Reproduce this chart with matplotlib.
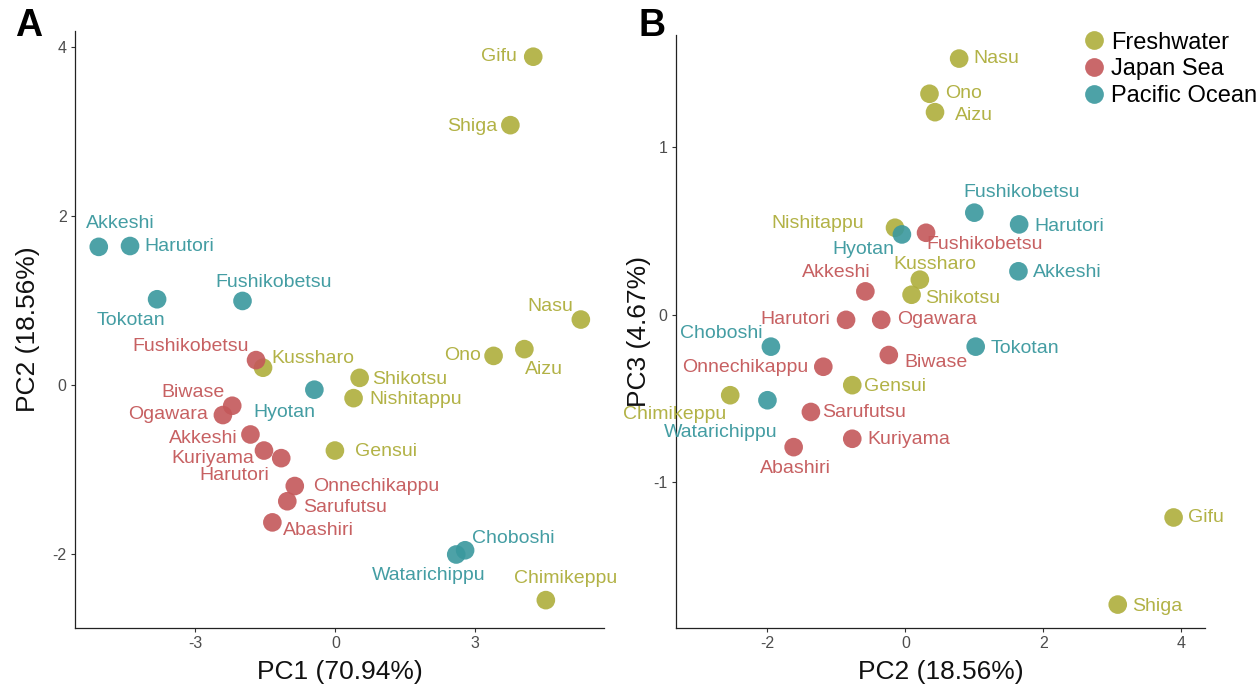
import numpy as np
import matplotlib
matplotlib.use("Agg")
import matplotlib.pyplot as plt
from matplotlib.lines import Line2D

plt.rcParams['font.family'] = ['Liberation Sans', 'DejaVu Sans']
plt.rcParams['axes.unicode_minus'] = False

# population names per group
fresh_names = ['Gifu', 'Shiga', 'Nasu', 'Ono', 'Aizu', 'Kussharo', 'Shikotsu',
               'Nishitappu', 'Gensui', 'Chimikeppu']
japan_names = ['Fushikobetsu', 'Biwase', 'Ogawara', 'Akkeshi', 'Kuriyama',
               'Harutori', 'Onnechikappu', 'Sarufutsu', 'Abashiri']
pacific_names = ['Akkeshi', 'Harutori', 'Tokotan', 'Fushikobetsu', 'Hyotan',
                 'Choboshi', 'Watarichippu']

# PC scores
fresh_pc1 = [4.24, 3.75, 5.26, 3.39, 4.05, -1.55, 0.52, 0.39, -0.01, 4.51]
fresh_pc2 = [3.89, 3.08, 0.78, 0.35, 0.43, 0.21, 0.09, -0.15, -0.77, -2.54]
fresh_pc3 = [-1.21, -1.73, 1.53, 1.32, 1.21, 0.21, 0.12, 0.52, -0.42, -0.48]

japan_pc1 = [-1.70, -2.21, -2.41, -1.82, -1.53, -1.16, -0.87, -1.03, -1.35]
japan_pc2 = [0.30, -0.24, -0.35, -0.58, -0.77, -0.86, -1.19, -1.37, -1.62]
japan_pc3 = [0.49, -0.24, -0.03, 0.14, -0.74, -0.03, -0.31, -0.58, -0.79]

pacific_pc1 = [-5.07, -4.40, -3.82, -1.99, -0.45, 2.78, 2.59]
pacific_pc2 = [1.64, 1.65, 1.02, 1.00, -0.05, -1.95, -2.00]
pacific_pc3 = [0.26, 0.54, -0.19, 0.61, 0.48, -0.19, -0.51]

group_labels = ['Freshwater', 'Japan Sea', 'Pacific Ocean']
colors = ['#AEAE3C', '#C4585A', '#3A989E']

# label offsets in pixels (dx, dy down) -- ggrepel-like placement
offs_a = {
    'Freshwater': [(-34, 0), (-38, 1), (-31, -13), (-31, 0), (20, 20), (50, -9),
                   (50, 2), (62, 1), (51, 1), (20, -22)],
    'Japan Sea': [(-65, -14), (-39, -13), (-55, -1), (-47, 4), (-51, 8), (-47, 17),
                  (81, 0), (58, 6), (46, 8)],
    'Pacific Ocean': [(22, -23), (49, 0), (-26, 21), (31, -18), (-30, 23), (48, -12),
                      (-28, 21)],
}
offs_b = {
    'Freshwater': [(32, 0), (40, 2), (37, 0), (34, 0), (39, 3), (15, -15),
                   (51, 4), (-77, -4), (43, 1), (-56, 19)],
    'Japan Sea': [(59, 12), (47, 7), (56, 0), (-29, -19), (57, 1), (-51, 0),
                  (-78, 1), (53, 1), (2, 21)],
    'Pacific Ocean': [(49, 1), (50, 2), (49, 2), (47, -20), (-39, 15), (-50, -13),
                      (-47, 32)],
}

groups = [
    (fresh_names, fresh_pc1, fresh_pc2, fresh_pc3),
    (japan_names, japan_pc1, japan_pc2, japan_pc3),
    (pacific_names, pacific_pc1, pacific_pc2, pacific_pc3),
]

fig = plt.figure(figsize=(12.6, 6.89), dpi=100)
ax1 = fig.add_axes([0.0595, 0.0885, 0.420, 0.866])
ax2 = fig.add_axes([0.5363, 0.0885, 0.4203, 0.8605])


def style(ax):
    for s in ['top', 'right']:
        ax.spines[s].set_visible(False)
    for s in ['left', 'bottom']:
        ax.spines[s].set_linewidth(0.9)
        ax.spines[s].set_color('#222222')
    ax.tick_params(length=3, width=0.8, color='#333333', labelsize=11.5,
                   labelcolor='#4D4D4D', pad=3)


def panel(ax, xi, yi, offs):
    for (names, p1, p2, p3), lab, col in zip(groups, group_labels, colors):
        data = {1: p1, 2: p2, 3: p3}
        x = np.array(data[xi])
        y = np.array(data[yi])
        ax.scatter(x, y, s=180, color=col, alpha=0.9, edgecolors='none', zorder=3)
        for n, xx, yy, (dx, dy) in zip(names, x, y, offs[lab]):
            ax.annotate(n, (xx, yy), xytext=(dx, -dy), textcoords='offset pixels',
                        ha='center', va='center', fontsize=14, color=col,
                        alpha=0.95, zorder=4, annotation_clip=False)


panel(ax1, 1, 2, offs_a)
panel(ax2, 2, 3, offs_b)

style(ax1)
style(ax2)

ax1.set_xlim(-5.58, 5.76)
ax1.set_ylim(-2.87, 4.19)
ax1.set_xticks([-3, 0, 3])
ax1.set_yticks([-2, 0, 2, 4])
ax1.set_xlabel('PC1 (70.94%)', fontsize=19, color='#111111')
ax1.set_ylabel('PC2 (18.56%)', fontsize=19, color='#111111')
ax1.xaxis.set_label_coords(0.5, -0.074)
ax1.yaxis.set_label_coords(-0.088, 0.5)

ax2.set_xlim(-3.33, 4.35)
ax2.set_ylim(-1.87, 1.67)
ax2.set_xticks([-2, 0, 2, 4])
ax2.set_yticks([-1, 0, 1])
ax2.set_xlabel('PC2 (18.56%)', fontsize=19, color='#111111')
ax2.set_ylabel('PC3 (4.67%)', fontsize=19, color='#111111')
ax2.xaxis.set_label_coords(0.5, -0.074)
ax2.yaxis.set_label_coords(-0.07, 0.5)

for ax in (ax1, ax2):
    ax.xaxis.label.set_va('center')
    ax.yaxis.label.set_va('center')

handles = [Line2D([], [], marker='o', linestyle='none', markersize=13.5,
                  markerfacecolor=c, markeredgecolor='none', alpha=0.9)
           for c in colors]
fig.legend(handles, group_labels, loc='upper left', bbox_to_anchor=(0.846, 0.978),
           frameon=False, fontsize=17, handlelength=1.0, handletextpad=0.2,
           labelspacing=0.2, borderpad=0.2)

fig.text(0.012, 0.988, 'A', fontsize=27, fontweight='bold', va='top', ha='left')
fig.text(0.507, 0.988, 'B', fontsize=27, fontweight='bold', va='top', ha='left')

fig.savefig('out.png', dpi=100)
